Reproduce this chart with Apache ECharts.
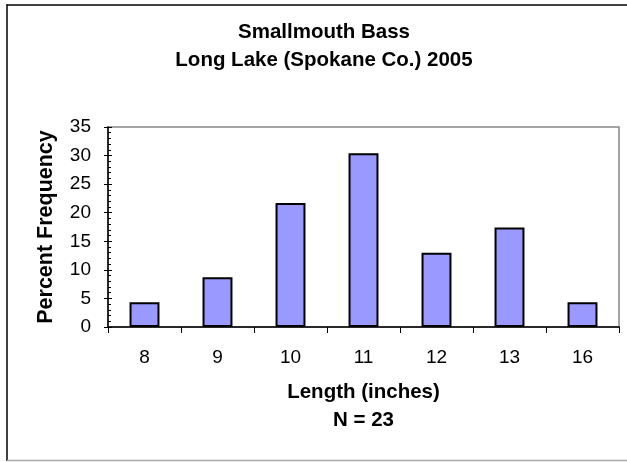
<!DOCTYPE html>
<html>
<head>
<meta charset="utf-8">
<script src="https://cdn.jsdelivr.net/npm/echarts@6/dist/echarts.min.js"></script>
<style>
    html, body { margin: 0; padding: 0; background: #fff; }
    #chart { width: 627px; height: 462px; }
</style>
</head>
<body>
<div id="chart"></div>
<script>
// N = 23 fish, percent of sample per length class
const lengths = ['8', '9', '10', '11', '12', '13', '16'];
const percentFreq = [4.35, 8.7, 21.7, 30.4, 13.0, 17.4, 4.35];
const yTicks = { min: 0, max: 35, step: 5 };

const font = 'Liberation Sans, Arial, sans-serif';
const myChart = echarts.init(document.getElementById('chart'), null, { renderer: 'canvas' });

const option = {
    backgroundColor: '#fff',
    animation: false,
    title: {
        text: 'Smallmouth Bass\nLong Lake (Spokane Co.) 2005',
        left: 324,
        top: 18,
        textAlign: 'center',
        padding: 0,
        textStyle: {
            fontFamily: font,
            fontSize: 20.5,
            fontWeight: 'bold',
            color: '#000',
            lineHeight: 28,
            align: 'center'
        }
    },
    graphic: [
        // outer chart-area frame (right side is cut off in the original)
        { type: 'line', shape: { x1: 7, y1: 4.5, x2: 7, y2: 461 }, style: { stroke: '#000', lineWidth: 1.5 } },
        { type: 'line', shape: { x1: 6.5, y1: 5, x2: 627, y2: 5 }, style: { stroke: '#000', lineWidth: 1.5 } },
        { type: 'line', shape: { x1: 7, y1: 460.5, x2: 627, y2: 460.5 }, style: { stroke: '#aaa', lineWidth: 1.5 } }
    ],
    grid: {
        left: 108,
        right: 8,
        top: 127,
        bottom: 135,
        show: true,
        borderColor: '#888',
        borderWidth: 1.5
    },
    xAxis: {
        type: 'category',
        data: lengths,
        boundaryGap: true,
        name: 'Length (inches)\nN = 23',
        nameLocation: 'middle',
        nameGap: 51,
        nameTextStyle: {
            fontFamily: font,
            fontSize: 20.5,
            fontWeight: 'bold',
            color: '#000',
            lineHeight: 28
        },
        axisLine: { lineStyle: { color: '#000', width: 1.5 } },
        axisTick: { show: true, length: 6, alignWithLabel: false, lineStyle: { color: '#000', width: 1 } },
        axisLabel: { fontFamily: font, fontSize: 19, color: '#000', margin: 21 },
        splitLine: { show: false }
    },
    yAxis: [
        {
            type: 'value',
            min: yTicks.min,
            max: yTicks.max,
            interval: yTicks.step,
            name: 'Percent Frequency',
            nameLocation: 'middle',
            nameGap: 51,
            nameTextStyle: {
                fontFamily: font,
                fontSize: 21.5,
                fontWeight: 'bold',
                color: '#000'
            },
            axisLine: { show: true, lineStyle: { color: '#000', width: 1.5 } },
            axisTick: { show: true, length: 4, lineStyle: { color: '#000', width: 1 } },
            axisLabel: { fontFamily: font, fontSize: 19, color: '#000', margin: 17 },
            splitLine: { show: false }
        },
        {
            // minor ticks sit inside the plot in the original
            type: 'value',
            position: 'left',
            min: yTicks.min,
            max: yTicks.max,
            interval: yTicks.step,
            axisLine: { show: false },
            axisTick: { show: true, inside: true, length: 4, lineStyle: { color: '#000', width: 1 } },
            minorTick: { show: true, splitNumber: 5, length: 3, lineStyle: { color: '#000', width: 1 } },
            axisLabel: { show: false },
            splitLine: { show: false }
        }
    ],
    series: [
        {
            type: 'bar',
            data: percentFreq,
            barWidth: '41%',
            itemStyle: {
                color: '#9999ff',
                borderColor: '#000',
                borderWidth: 2
            }
        }
    ]
};

myChart.setOption(option);
</script>
</body>
</html>
